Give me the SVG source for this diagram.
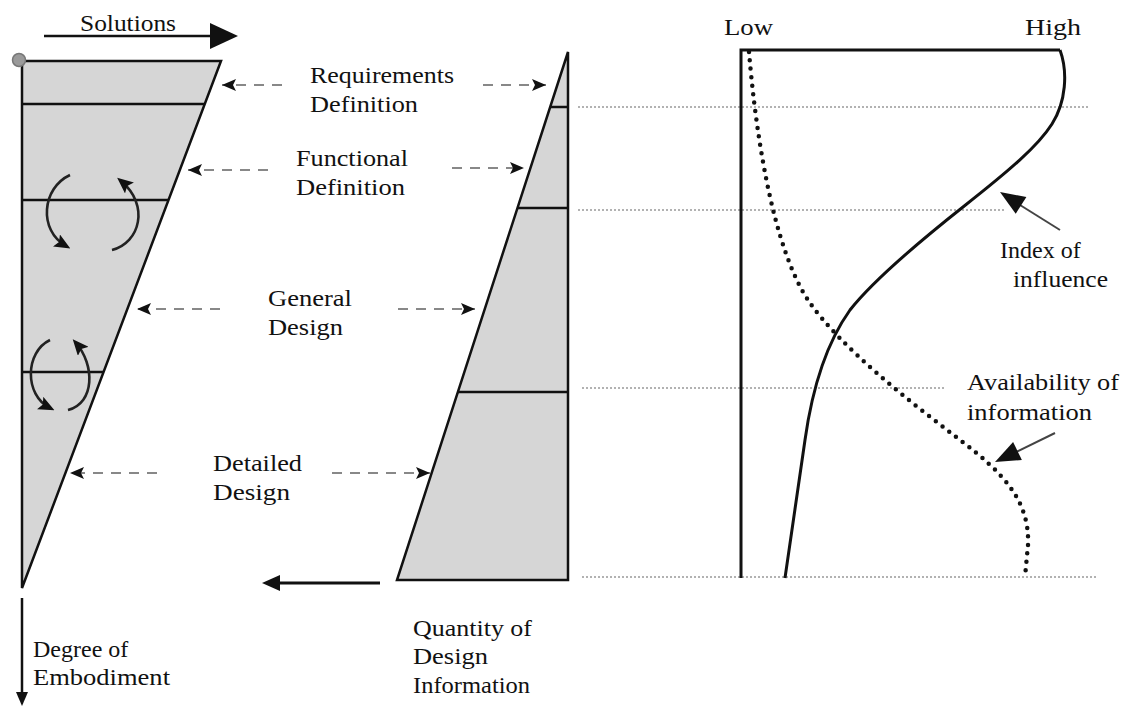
<svg xmlns="http://www.w3.org/2000/svg" width="1127" height="706" viewBox="0 0 1127 706">
<style>
.t{font-family:"Liberation Serif","DejaVu Serif",serif;font-size:24px;fill:#111}
.tri{fill:#d6d6d6;stroke:#111;stroke-width:2.5;stroke-linejoin:miter}
.hl{stroke:#111;stroke-width:2.5}
.dash{fill:none;stroke:#888;stroke-width:2;stroke-dasharray:10 8}
.dot{fill:none;stroke:#999;stroke-width:1.5;stroke-dasharray:2 2}
.rot{fill:none;stroke:#222;stroke-width:2.6}
</style>
<defs>
<marker id="sh" viewBox="0 0 14 12" refX="14" refY="6" markerWidth="14" markerHeight="12" markerUnits="userSpaceOnUse" orient="auto">
<path d="M0,0 L14,6 L0,12 L3,6 z" fill="#111"/>
</marker>
<marker id="rh" viewBox="0 0 16 14" refX="11" refY="7" markerWidth="16" markerHeight="14" markerUnits="userSpaceOnUse" orient="auto">
<path d="M0,0 L16,7 L0,14 L3,7 z" fill="#111"/>
</marker>
</defs>

<g id="guides">
<line class="dot" x1="578" y1="107" x2="1090" y2="107"/>
<line class="dot" x1="578" y1="210" x2="1005" y2="210"/>
<line class="dot" x1="582" y1="388" x2="945" y2="388"/>
<line class="dot" x1="582" y1="577" x2="1098" y2="577"/>
</g>

<g id="solution-space">
<polygon class="tri" points="22,61 221,61 22,588"/>
<line class="hl" x1="22" y1="104" x2="205" y2="104"/>
<line class="hl" x1="22" y1="200" x2="168" y2="200"/>
<line class="hl" x1="22" y1="372" x2="103" y2="372"/>
<circle cx="19" cy="60" r="6.5" fill="#9a9a9a" stroke="#777" stroke-width="1.5"/>
<path class="rot" d="M70,175 C42,188 38,230 66,246" marker-end="url(#rh)"/>
<path class="rot" d="M112,250 C140,243 150,205 121,181" marker-end="url(#rh)"/>
<path class="rot" d="M50,340 C25,352 24,395 50,408" marker-end="url(#rh)"/>
<path class="rot" d="M68,410 C95,403 95,365 76,343" marker-end="url(#rh)"/>
</g>

<g id="information-quantity">
<polygon class="tri" points="568,52 568,580 397,580"/>
<line class="hl" x1="550" y1="107" x2="568" y2="107"/>
<line class="hl" x1="517" y1="208" x2="568" y2="208"/>
<line class="hl" x1="458" y1="392" x2="568" y2="392"/>
</g>

<g id="chart">
<path d="M741,578 L741,50 L1060,50" fill="none" stroke="#111" stroke-width="3"/>
<path id="influence-curve" d="M1060,50 C1068,72 1066,102 1052,124 C1038,146 1010,170 963,207 C915,245 872,282 850,310 C825,345 812,390 805,440 L785,578" fill="none" stroke="#111" stroke-width="3"/>
<path id="availability-curve" d="M749,52 C756,135 773,250 810,303 C842,348 905,398 960,440 C1002,472 1030,500 1028,545 L1025,577" fill="none" stroke="#111" stroke-width="4.5" stroke-linecap="round" stroke-dasharray="0 8.5"/>
</g>

<g id="connectors">
<line class="dash" x1="282" y1="85" x2="222" y2="85" marker-end="url(#sh)"/>
<line class="dash" x1="483" y1="85" x2="546" y2="85" marker-end="url(#sh)"/>
<line class="dash" x1="268" y1="170" x2="188" y2="170" marker-end="url(#sh)"/>
<line class="dash" x1="452" y1="168" x2="524" y2="168" marker-end="url(#sh)"/>
<line class="dash" x1="220" y1="309" x2="137" y2="309" marker-end="url(#sh)"/>
<line class="dash" x1="398" y1="309" x2="475" y2="309" marker-end="url(#sh)"/>
<line class="dash" x1="157" y1="473" x2="70" y2="473" marker-end="url(#sh)"/>
<line class="dash" x1="332" y1="473" x2="430" y2="473" marker-end="url(#sh)"/>
<line x1="44" y1="36" x2="212" y2="36" stroke="#111" stroke-width="2.5"/>
<polygon points="210,23 238,36 210,49" fill="#111"/>
<line x1="380" y1="583" x2="275" y2="583" stroke="#111" stroke-width="3"/>
<polygon points="262,583 280,575 280,591" fill="#111"/>
<line x1="22" y1="598" x2="22" y2="694" stroke="#111" stroke-width="2.5"/>
<polygon points="16,692 28,692 22,706" fill="#111"/>
<line x1="1060" y1="230" x2="1020" y2="205" stroke="#444" stroke-width="2"/>
<polygon points="1000,192 1026.4,197 1015.7,213.8" fill="#111"/>
<line x1="1055" y1="433" x2="1016" y2="452" stroke="#444" stroke-width="2"/>
<polygon points="995,462 1021.9,460 1013.1,442" fill="#111"/>
</g>

<g id="labels">
<text class="t" x="80" y="31" textLength="96" lengthAdjust="spacingAndGlyphs">Solutions</text>
<text class="t" x="310" y="83" textLength="144" lengthAdjust="spacingAndGlyphs">Requirements</text>
<text class="t" x="310" y="112" textLength="108" lengthAdjust="spacingAndGlyphs">Definition</text>
<text class="t" x="296" y="166" textLength="112" lengthAdjust="spacingAndGlyphs">Functional</text>
<text class="t" x="296" y="195" textLength="109" lengthAdjust="spacingAndGlyphs">Definition</text>
<text class="t" x="268" y="306" textLength="84" lengthAdjust="spacingAndGlyphs">General</text>
<text class="t" x="268" y="335" textLength="75" lengthAdjust="spacingAndGlyphs">Design</text>
<text class="t" x="213" y="471" textLength="89" lengthAdjust="spacingAndGlyphs">Detailed</text>
<text class="t" x="213" y="500" textLength="77" lengthAdjust="spacingAndGlyphs">Design</text>
<text class="t" x="724" y="35" textLength="49" lengthAdjust="spacingAndGlyphs">Low</text>
<text class="t" x="1025" y="35" textLength="56" lengthAdjust="spacingAndGlyphs">High</text>
<text class="t" x="1000" y="258">Index of</text>
<text class="t" x="1013" y="287" textLength="95" lengthAdjust="spacingAndGlyphs">influence</text>
<text class="t" x="967" y="390" textLength="152" lengthAdjust="spacingAndGlyphs">Availability of</text>
<text class="t" x="967" y="420" textLength="125" lengthAdjust="spacingAndGlyphs">information</text>
<text class="t" x="33" y="657">Degree of</text>
<text class="t" x="33" y="685" textLength="137" lengthAdjust="spacingAndGlyphs">Embodiment</text>
<text class="t" x="413" y="636" textLength="119" lengthAdjust="spacingAndGlyphs">Quantity of</text>
<text class="t" x="413" y="664" textLength="75" lengthAdjust="spacingAndGlyphs">Design</text>
<text class="t" x="413" y="693" textLength="117" lengthAdjust="spacingAndGlyphs">Information</text>
</g>
</svg>
